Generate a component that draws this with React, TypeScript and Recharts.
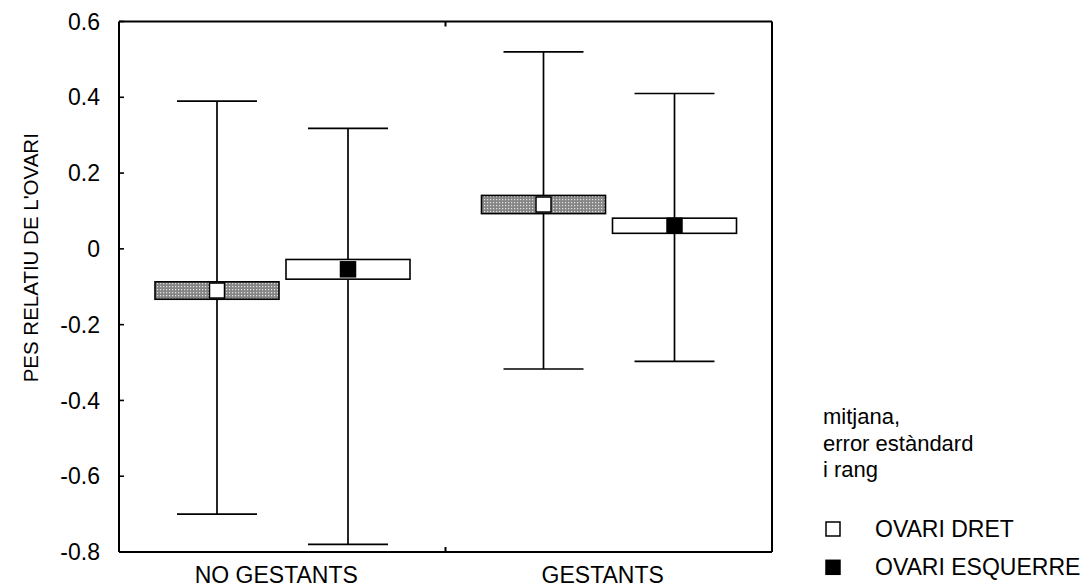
import React from 'react';
import { ComposedChart, Bar, XAxis, YAxis, Legend } from 'recharts';

const FONT = '"Liberation Sans", Arial, Helvetica, sans-serif';

// Categories and axis ticks
const groups = ['NO GESTANTS', 'GESTANTS'];
const yTicks = [-0.8, -0.6, -0.4, -0.2, 0, 0.2, 0.4, 0.6];

// OVARI DRET: mean, standard-error band and range
const dretMean = [-0.11, 0.117];
const dretSeLow = [-0.133, 0.093];
const dretSeHigh = [-0.087, 0.141];
const dretMin = [-0.7, -0.317];
const dretMax = [0.39, 0.52];

// OVARI ESQUERRE: mean, standard-error band and range
const esqMean = [-0.054, 0.061];
const esqSeLow = [-0.08, 0.041];
const esqSeHigh = [-0.028, 0.081];
const esqMin = [-0.78, -0.297];
const esqMax = [0.318, 0.41];

const seriesNames = ['OVARI DRET', 'OVARI ESQUERRE'];
const legendHeading = ['mitjana,', 'error estàndard', 'i rang'];

const data = groups.map((g, i) => ({
  group: g,
  dret: { mean: dretMean[i], lo: dretSeLow[i], hi: dretSeHigh[i], min: dretMin[i], max: dretMax[i] },
  esq: { mean: esqMean[i], lo: esqSeLow[i], hi: esqSeHigh[i], min: esqMin[i], max: esqMax[i] },
}));

type Stat = { mean: number; lo: number; hi: number; min: number; max: number };

// Whisker (range), box (standard error) and square marker (mean)
const makeShape = (key: 'dret' | 'esq', boxFill: string, markFill: string) => (props: any) => {
  const { x, y, width, height, payload } = props;
  const s: Stat = payload[key];
  const top = Math.min(y, y + height);
  const bot = Math.max(y, y + height);
  const py = (v: number) => top + ((s.max - v) / (s.max - s.min)) * (bot - top);
  const cx = x + width / 2;
  const cap = width * 0.645;
  const m = 15;
  return (
    <g>
      <line x1={cx} x2={cx} y1={py(s.max)} y2={py(s.min)} stroke="#000" strokeWidth={1.7} />
      <line x1={cx - cap / 2} x2={cx + cap / 2} y1={py(s.max)} y2={py(s.max)} stroke="#000" strokeWidth={1.7} />
      <line x1={cx - cap / 2} x2={cx + cap / 2} y1={py(s.min)} y2={py(s.min)} stroke="#000" strokeWidth={1.7} />
      <rect x={x} y={py(s.hi)} width={width} height={py(s.lo) - py(s.hi)} fill={boxFill} stroke="#000" strokeWidth={1.6} />
      <rect x={cx - m / 2} y={py(s.mean) - m / 2} width={m} height={m} fill={markFill} stroke="#000" strokeWidth={1.5} />
    </g>
  );
};

const dretShape = makeShape('dret', 'url(#stipple)', '#fff');
const esqShape = makeShape('esq', '#fff', '#000');
const markerFills: Record<string, string> = { 'OVARI DRET': '#fff', 'OVARI ESQUERRE': '#000' };

const fmt = (v: number) => (v === 0 ? '0' : v.toFixed(1));

const AxisTitle = (props: any) => {
  const vb = props.viewBox || { x: 0, y: 0, width: 0, height: 0 };
  const cx = vb.x + 30;
  const cy = vb.y + vb.height / 2 - 29;
  return (
    <text
      x={cx}
      y={cy}
      transform={`rotate(-90 ${cx} ${cy})`}
      textAnchor="middle"
      dominantBaseline="central"
      fontFamily={FONT}
      fontSize={20.5}
      fill="#000"
    >
      PES RELATIU DE L'OVARI
    </text>
  );
};

// Half of a category band, from the tick info the axis hands to a custom tick
const halfBand = (props: any) => {
  const off = props.payload && props.payload.offset;
  if (typeof off === 'number' && off > 0) return off;
  const n = props.visibleTicksCount || groups.length;
  return props.width / (2 * n);
};

// Bottom axis: group names at band centres, a small inward tick at each inner band boundary
const TICK_SIZE = 6;
const TICK_MARGIN = 9;
const BottomTick = (props: any) => {
  const { x, y, payload } = props;
  const axisY = y - TICK_SIZE - TICK_MARGIN;
  const last = payload.index >= (props.visibleTicksCount || groups.length) - 1;
  const bx = x + halfBand(props);
  return (
    <g>
      <text x={x} y={y} dx={-6} dy="0.71em" textAnchor="middle" fontFamily={FONT} fontSize={23} fill="#000">
        {payload.value}
      </text>
      {!last && <line x1={bx} x2={bx} y1={axisY} y2={axisY - 5} stroke="#000" strokeWidth={2} />}
    </g>
  );
};

// Top axis: only the inward tick at the inner band boundary
const TopTick = (props: any) => {
  const { x, y, payload } = props;
  const last = payload.index >= (props.visibleTicksCount || groups.length) - 1;
  if (last) return <g />;
  const bx = x + halfBand(props);
  return <line x1={bx} x2={bx} y1={y} y2={y + 5} stroke="#000" strokeWidth={2} />;
};

const LegendBox = (props: any) => {
  const payload = props.payload || [];
  return (
    <svg width={272} height={190} style={{ display: 'block' }}>
      {legendHeading.map((t, i) => (
        <text key={t} x={3} y={24 + i * 26.7} fontFamily={FONT} fontSize={22} fill="#000">
          {t}
        </text>
      ))}
      {payload.map((entry: any, i: number) => (
        <g key={entry.value}>
          <rect
            x={6}
            y={122 + i * 38.3}
            width={14}
            height={14}
            fill={markerFills[entry.value] ?? '#fff'}
            stroke="#000"
            strokeWidth={1.5}
          />
          <text x={55} y={136.7 + i * 38.3} fontFamily={FONT} fontSize={23} fill="#000">
            {entry.value}
          </text>
        </g>
      ))}
    </svg>
  );
};

const axisLine = { stroke: '#000', strokeWidth: 2 };
const tickLine = { stroke: '#000', strokeWidth: 1.6 };

export default function App() {
  return (
    <div style={{ position: 'absolute', left: 0, top: 0, width: 1092, height: 587, background: '#fff' }}>
      <ComposedChart
        width={1092}
        height={587}
        data={data}
        margin={{ top: 20.5, right: 319, bottom: 0, left: 0 }}
        barSize={124}
        barGap={7}
      >
        <defs>
          <pattern id="stipple" patternUnits="userSpaceOnUse" width="3" height="3">
            <rect width="3" height="3" fill="#858585" />
            <rect x="1" y="1" width="1.2" height="1.2" fill="#e6e6e6" />
          </pattern>
        </defs>
        <XAxis
          xAxisId="cat"
          dataKey="group"
          type="category"
          interval={0}
          height={35}
          tickLine={false}
          tickSize={TICK_SIZE}
          tickMargin={TICK_MARGIN}
          axisLine={axisLine}
          tick={<BottomTick />}
        />
        <XAxis
          xAxisId="top"
          orientation="top"
          dataKey="group"
          type="category"
          interval={0}
          height={1}
          tickLine={false}
          tickSize={0}
          tickMargin={0}
          axisLine={axisLine}
          tick={<TopTick />}
        />
        <YAxis
          yAxisId="left"
          type="number"
          domain={[-0.8, 0.6]}
          allowDataOverflow
          ticks={yTicks}
          interval={0}
          width={119}
          tickSize={-5}
          tickMargin={24}
          tickFormatter={fmt}
          axisLine={axisLine}
          tickLine={tickLine}
          tick={{ fill: '#000', fontSize: 23, fontFamily: FONT }}
          label={<AxisTitle />}
        />
        <YAxis
          yAxisId="right"
          orientation="right"
          type="number"
          domain={[-0.8, 0.6]}
          allowDataOverflow
          ticks={yTicks}
          interval={0}
          width={1}
          tick={false}
          tickSize={-5}
          axisLine={axisLine}
          tickLine={tickLine}
        />
        <Bar
          xAxisId="cat"
          yAxisId="left"
          name={seriesNames[0]}
          dataKey={(d: any) => [d.dret.min, d.dret.max]}
          fill="#fff"
          shape={dretShape}
          isAnimationActive={false}
        />
        <Bar
          xAxisId="cat"
          yAxisId="left"
          name={seriesNames[1]}
          dataKey={(d: any) => [d.esq.min, d.esq.max]}
          fill="#000"
          shape={esqShape}
          isAnimationActive={false}
        />
        <Legend
          layout="vertical"
          align="center"
          verticalAlign="middle"
          content={<LegendBox />}
          wrapperStyle={{ left: 820, top: 400, width: 272, height: 190 }}
        />
      </ComposedChart>
    </div>
  );
}
